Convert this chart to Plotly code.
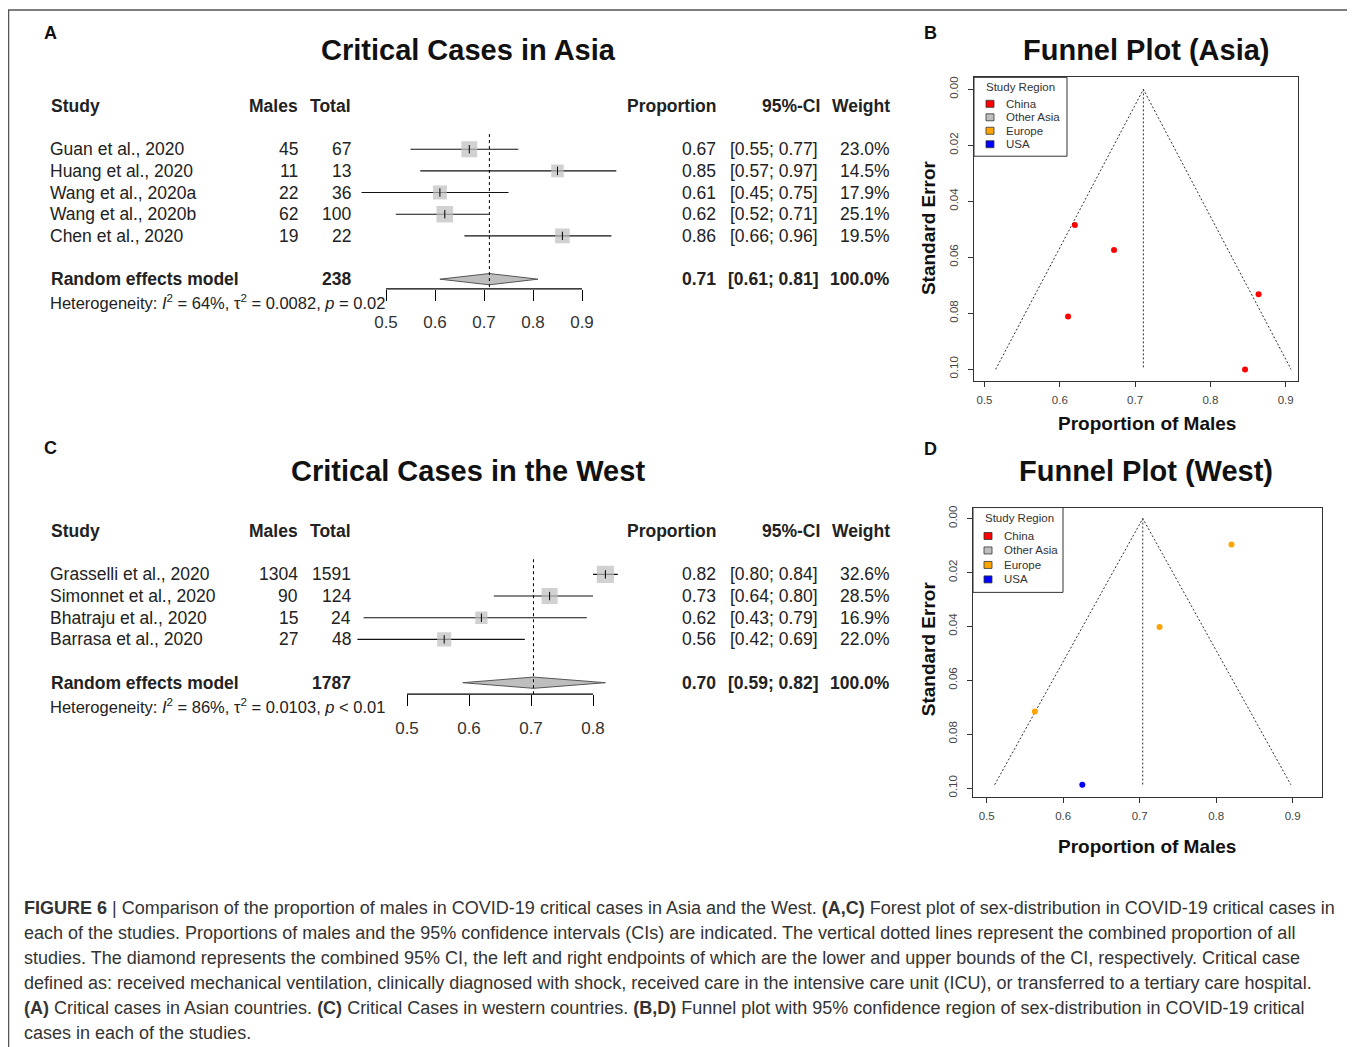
import plotly.graph_objects as go

# page offset (browser body margin) compensation
OX, OY = 8, 9.5
FW, FH = 1347, 1039
def px(x): return (x - OX) / FW
def py(y): return 1 - (y - OY) / FH

# ---------------- DATA ----------------
asia_studies = ["Guan et al., 2020", "Huang et al., 2020", "Wang et al., 2020a", "Wang et al., 2020b", "Chen et al., 2020"]
asia_males = [45, 11, 22, 62, 19]
asia_total = [67, 13, 36, 100, 22]
asia_prop = [0.67, 0.85, 0.61, 0.62, 0.86]
asia_lo = [0.55, 0.57, 0.45, 0.52, 0.66]
asia_hi = [0.77, 0.97, 0.75, 0.71, 0.96]
asia_weight = [23.0, 14.5, 17.9, 25.1, 19.5]
asia_pooled = [0.711, 0.61, 0.81]   # estimate, lower, upper
asia_pooled_txt = ["0.71", "[0.61; 0.81]", "100.0%"]
asia_total_n = 238
asia_het = "Heterogeneity: <i>I</i><sup>2</sup> = 64%, τ<sup>2</sup> = 0.0082, <i>p</i> = 0.02"

west_studies = ["Grasselli et al., 2020", "Simonnet et al., 2020", "Bhatraju et al., 2020", "Barrasa et al., 2020"]
west_males = [1304, 90, 15, 27]
west_total = [1591, 124, 24, 48]
west_prop = [0.82, 0.73, 0.62, 0.56]
west_lo = [0.80, 0.64, 0.43, 0.42]
west_hi = [0.84, 0.80, 0.79, 0.69]
west_weight = [32.6, 28.5, 16.9, 22.0]
west_pooled = [0.704, 0.59, 0.82]
west_pooled_txt = ["0.70", "[0.59; 0.82]", "100.0%"]
west_total_n = 1787
west_het = "Heterogeneity: <i>I</i><sup>2</sup> = 86%, τ<sup>2</sup> = 0.0103, <i>p</i> < 0.01"

forest_ticks_asia = [0.5, 0.6, 0.7, 0.8, 0.9]
forest_ticks_west = [0.5, 0.6, 0.7, 0.8]

# funnel data (proportion, standard error, region)
funnel_asia_p = [0.672, 0.846, 0.611, 0.620, 0.864]
funnel_asia_se = [0.0574, 0.1001, 0.0812, 0.0485, 0.0732]
funnel_asia_region = ["China", "China", "China", "China", "China"]
funnel_asia_center = 0.711
funnel_asia_semax = 0.1001

funnel_west_p = [0.820, 0.726, 0.625, 0.563]
funnel_west_se = [0.0096, 0.0403, 0.0988, 0.0716]
funnel_west_region = ["Europe", "Europe", "USA", "Europe"]
funnel_west_center = 0.704
funnel_west_semax = 0.0988

regions = ["China", "Other Asia", "Europe", "USA"]
region_colors = {"China": "#FF0000", "Other Asia": "#BEBEBE", "Europe": "#FFA500", "USA": "#0000FF"}
funnel_xticks = [0.5, 0.6, 0.7, 0.8, 0.9]
funnel_yticks = [0.0, 0.02, 0.04, 0.06, 0.08, 0.10]

caption_lines = [
    "<b>FIGURE 6</b> | Comparison of the proportion of males in COVID-19 critical cases in Asia and the West. <b>(A,C)</b> Forest plot of sex-distribution in COVID-19 critical cases in",
    "each of the studies. Proportions of males and the 95% confidence intervals (CIs) are indicated. The vertical dotted lines represent the combined proportion of all",
    "studies. The diamond represents the combined 95% CI, the left and right endpoints of which are the lower and upper bounds of the CI, respectively. Critical case",
    "defined as: received mechanical ventilation, clinically diagnosed with shock, received care in the intensive care unit (ICU), or transferred to a tertiary care hospital.",
    "<b>(A)</b> Critical cases in Asian countries. <b>(C)</b> Critical Cases in western countries. <b>(B,D)</b> Funnel plot with 95% confidence region of sex-distribution in COVID-19 critical",
    "cases in each of the studies.",
]

FONT = "Liberation Sans, Arial, sans-serif"
TXT = "#222222"

fig = go.Figure()
annotations = []
shapes = []

def ann(x, y, text, size, bold=False, anchor="left", color=TXT, **kw):
    t = f"<b>{text}</b>" if bold else text
    annotations.append(dict(x=px(x), y=py(y), xref="paper", yref="paper", text=t,
                            showarrow=False, xanchor=anchor, yanchor="middle",
                            font=dict(family=FONT, size=size, color=color), **kw))

def forest(studies, males, total, prop, lo, hi, weight, pooled, pooled_txt, total_n, het,
           xa, ya, top_row_px, step, re_row, axis_px, ticks, sq_k, title, title_y, letter, letter_y):
    rows = list(range(1, len(studies) + 1))
    xs, ys = [], []
    for r, a, b in zip(rows, lo, hi):
        xs += [a, b, None]; ys += [r, r, None]
    fig.add_trace(go.Scatter(x=xs, y=ys, mode="lines", line=dict(color="#111111", width=1.1),
                             xaxis=xa, yaxis=ya, hoverinfo="skip"))
    fig.add_trace(go.Scatter(x=prop, y=rows, mode="markers",
                             marker=dict(symbol="square", size=[sq_k * w ** 0.5 for w in weight],
                                         color="#BEBEBE", line=dict(width=0)),
                             xaxis=xa, yaxis=ya, hoverinfo="skip"))
    fig.add_trace(go.Scatter(x=prop, y=rows, mode="markers",
                             marker=dict(symbol="line-ns", size=6, line=dict(color="#000000", width=1)),
                             xaxis=xa, yaxis=ya, hoverinfo="skip"))
    est, plo, phi = pooled
    fig.add_trace(go.Scatter(x=[plo, est, phi, est, plo], y=[re_row, re_row - 0.26, re_row, re_row + 0.26, re_row],
                             mode="lines", fill="toself", fillcolor="#BEBEBE",
                             line=dict(color="#555555", width=1), xaxis=xa, yaxis=ya, hoverinfo="skip"))
    axis_row = 1 + (axis_px - top_row_px) / step
    fig.add_trace(go.Scatter(x=[est, est], y=[0.3, axis_row], mode="lines",
                             line=dict(color="#000000", width=1, dash="dot"),
                             xaxis=xa, yaxis=ya, hoverinfo="skip"))
    shapes.append(dict(type="line", xref=xa, yref="paper", x0=ticks[0], x1=ticks[-1],
                       y0=py(axis_px), y1=py(axis_px), line=dict(color="#000000", width=1.2)))
    def rowy(r): return top_row_px + (r - 1) * step
    hdr = top_row_px - 43
    ann(49, hdr, "Study", 17.5, bold=True)
    ann(300, hdr, "Males", 17.5, bold=True, anchor="right")
    ann(353, hdr, "Total", 17.5, bold=True, anchor="right")
    ann(718, hdr, "Proportion", 17.5, bold=True, anchor="right")
    ann(822, hdr, "95%-CI", 17.5, bold=True, anchor="right")
    ann(892, hdr, "Weight", 17.5, bold=True, anchor="right")
    for r, s, m, t, p, a, b, w in zip(rows, studies, males, total, prop, lo, hi, weight):
        y = rowy(r)
        ann(48, y, s, 17.5)
        ann(300, y, str(m), 17.5, anchor="right")
        ann(353, y, str(t), 17.5, anchor="right")
        ann(718, y, f"{p:.2f}", 17.5, anchor="right")
        ann(820, y, f"[{a:.2f}; {b:.2f}]", 17.5, anchor="right")
        ann(892, y, f"{w:.1f}%", 17.5, anchor="right")
    y = rowy(re_row)
    ann(49, y, "Random effects model", 17.5, bold=True)
    ann(353, y, str(total_n), 17.5, bold=True, anchor="right")
    ann(718, y, pooled_txt[0], 17.5, bold=True, anchor="right")
    ann(820, y, pooled_txt[1], 17.5, bold=True, anchor="right")
    ann(892, y, pooled_txt[2], 17.5, bold=True, anchor="right")
    ann(48, y + 23, het, 16.5)
    ann(468.5, title_y, "Critical Cases in " + title, 29, bold=True, anchor="center", color="#111111")
    ann(50, letter_y, letter, 18, bold=True, anchor="center", color="#111111")

forest(asia_studies, asia_males, asia_total, asia_prop, asia_lo, asia_hi, asia_weight, asia_pooled,
       asia_pooled_txt, asia_total_n, asia_het, "x", "y", 149, 21.7, 7, 289, forest_ticks_asia, 3.3,
       "Asia", 50, "A", 33)
forest(west_studies, west_males, west_total, west_prop, west_lo, west_hi, west_weight, west_pooled,
       west_pooled_txt, west_total_n, west_het, "x2", "y2", 575, 21.7, 6, 695, forest_ticks_west, 3.0,
       "the West", 471, "C", 448)

def funnel(p, se, reg, center, semax, xa, ya):
    fig.add_trace(go.Scatter(x=[center - 1.96 * semax, center, center + 1.96 * semax], y=[semax, 0, semax],
                             mode="lines", line=dict(color="#333333", width=1, dash="2px,2px"),
                             xaxis=xa, yaxis=ya, hoverinfo="skip"))
    fig.add_trace(go.Scatter(x=[center, center], y=[0, semax], mode="lines",
                             line=dict(color="#333333", width=1, dash="2px,2px"),
                             xaxis=xa, yaxis=ya, hoverinfo="skip"))
    fig.add_trace(go.Scatter(x=p, y=se, mode="markers",
                             marker=dict(size=6, color=[region_colors[r] for r in reg], line=dict(width=0)),
                             xaxis=xa, yaxis=ya, hoverinfo="skip"))

funnel(funnel_asia_p, funnel_asia_se, funnel_asia_region, funnel_asia_center, funnel_asia_semax, "x3", "y3")
funnel(funnel_west_p, funnel_west_se, funnel_west_region, funnel_west_center, funnel_west_semax, "x4", "y4")

def legend_box(x0, y0, x1, y1, title_y, sq_x, txt_x, rows_y):
    shapes.append(dict(type="rect", xref="paper", yref="paper", x0=px(x0), x1=px(x1), y0=py(y0), y1=py(y1),
                       line=dict(color="#333333", width=1), fillcolor="white", layer="above"))
    ann(x0 + 10, title_y, "Study Region", 11.5, color="#333333")
    for reg, ry in zip(regions, rows_y):
        shapes.append(dict(type="rect", xref="paper", yref="paper", x0=px(sq_x - 4), x1=px(sq_x + 4),
                           y0=py(ry - 3.5), y1=py(ry + 3.5), line=dict(color="#333333", width=0.8),
                           fillcolor=region_colors[reg], layer="above"))
        ann(txt_x, ry, reg, 11.5, color="#333333")

legend_box(974, 77, 1067, 156, 87, 990, 1004, [103.5, 117, 130.5, 144])
legend_box(973, 508, 1063, 593, 518.5, 988, 1002, [536.5, 551, 565.5, 580])

ann(1146, 50, "Funnel Plot (Asia)", 29, bold=True, anchor="center", color="#111111")
ann(1146, 471, "Funnel Plot (West)", 29, bold=True, anchor="center", color="#111111")
ann(930, 33, "B", 18, bold=True, anchor="center", color="#111111")
ann(930, 449, "D", 18, bold=True, anchor="center", color="#111111")
ann(1147, 424, "Proportion of Males", 19, bold=True, anchor="center", color="#111111")
ann(1147, 848, "Proportion of Males", 19, bold=True, anchor="center", color="#111111")
ann(928, 228, "Standard Error", 19, bold=True, anchor="center", color="#111111", textangle=-90)
ann(928, 650, "Standard Error", 19, bold=True, anchor="center", color="#111111", textangle=-90)

cap_y = [909.5, 934.5, 959.5, 984.5, 1009.5, 1034.5]
for line, y in zip(caption_lines, cap_y):
    ann(22, y, line, 18, color="#333333")

# frame lines
shapes.append(dict(type="line", xref="paper", yref="paper", x0=0, x1=1, y0=py(9.5), y1=py(9.5),
                   line=dict(color="#555555", width=1.5)))
shapes.append(dict(type="line", xref="paper", yref="paper", x0=px(8.5), x1=px(8.5), y0=py(9.5), y1=0,
                   line=dict(color="#555555", width=1.5)))

forest_x_common = dict(showgrid=False, zeroline=False, showline=False, ticks="outside", ticklen=11,
                       tickcolor="#000000", tickwidth=1.2, ticklabelstandoff=7,
                       tickfont=dict(family=FONT, size=17, color="#333333"))
hidden_y = dict(visible=False, showgrid=False, zeroline=False)

funnel_x_common = dict(showgrid=False, zeroline=False, showline=True, mirror=True, linecolor="#333333",
                       linewidth=1, ticks="outside", ticklen=5, tickcolor="#333333", ticklabelstandoff=3,
                       tickvals=funnel_xticks, tickfont=dict(family=FONT, size=11.5, color="#444444"))
funnel_y_common = dict(showgrid=False, zeroline=False, showline=True, mirror=True, linecolor="#333333",
                       linewidth=1, ticks="outside", ticklen=5, tickcolor="#333333", ticklabelstandoff=5,
                       tickvals=funnel_yticks, tickformat=".2f", tickangle=-90,
                       tickfont=dict(family=FONT, size=11.5, color="#444444"))

fig.update_layout(
    width=FW, height=FH, margin=dict(l=0, r=0, t=0, b=0), showlegend=False,
    paper_bgcolor="white", plot_bgcolor="rgba(0,0,0,0)",
    xaxis=dict(domain=[px(340), px(625)], range=[0.5 - 46 / 490, 0.5 + 239 / 490], anchor="y",
               tickvals=forest_ticks_asia, **forest_x_common),
    yaxis=dict(domain=[py(289), py(125)], range=[1 + 140 / 21.7, 1 - 24 / 21.7], anchor="x", **hidden_y),
    xaxis2=dict(domain=[px(340), px(625)], range=[0.5 - 67 / 620, 0.5 + 218 / 620], anchor="y2",
                tickvals=forest_ticks_west, **forest_x_common),
    yaxis2=dict(domain=[py(695), py(550)], range=[1 + 120 / 21.7, 1 - 25 / 21.7], anchor="x2", **hidden_y),
    xaxis3=dict(domain=[px(974), px(1298)], range=[0.5 - 10.5 / 753, 0.5 + 313.5 / 753], anchor="y3",
                **funnel_x_common),
    yaxis3=dict(domain=[py(381), py(77)], range=[292 / 2803, -12 / 2803], anchor="x3", **funnel_y_common),
    xaxis4=dict(domain=[px(973), px(1322)], range=[0.5 - 13.7 / 765, 0.5 + 335.3 / 765], anchor="y4",
                **funnel_x_common),
    yaxis4=dict(domain=[py(798), py(508)], range=[279 / 2700, -11 / 2700], anchor="x4", **funnel_y_common),
    annotations=annotations, shapes=shapes,
)

fig.write_html("out.html")
